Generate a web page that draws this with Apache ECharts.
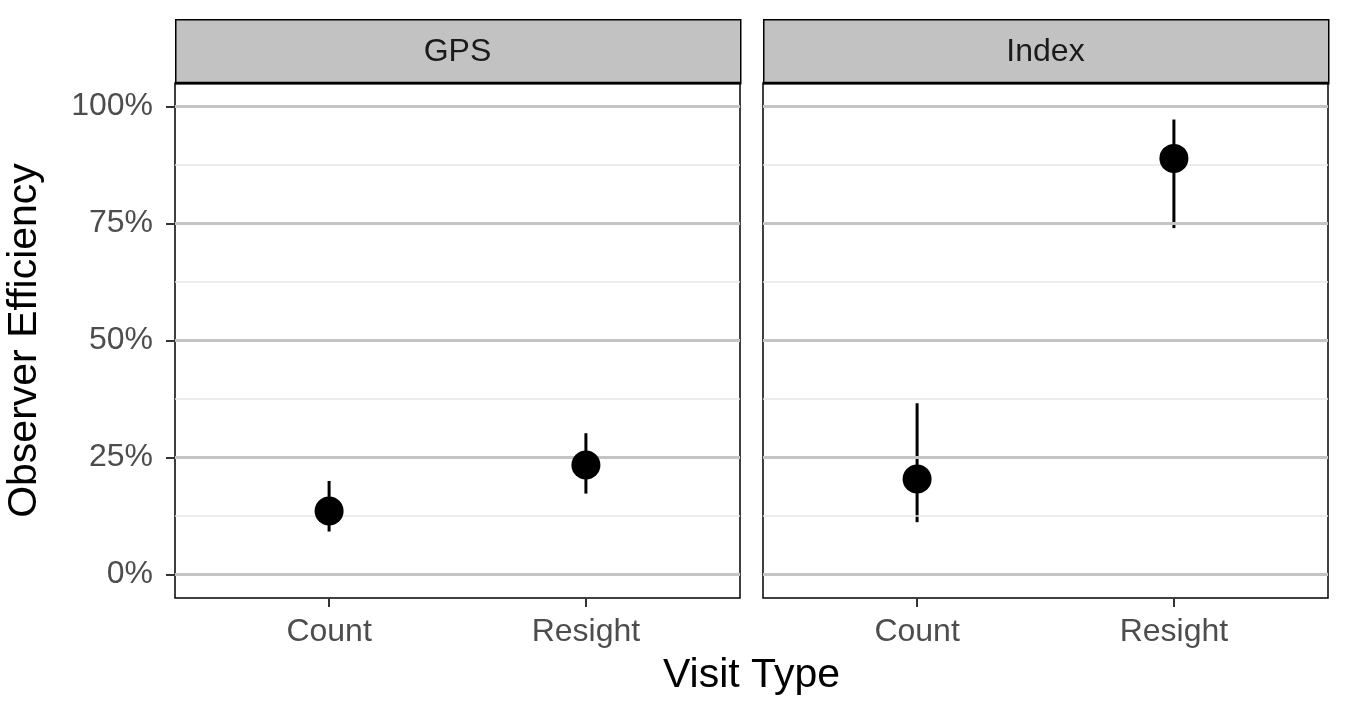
<!DOCTYPE html>
<html><head><meta charset="utf-8">
<script src="https://cdn.jsdelivr.net/npm/echarts@6/dist/echarts.min.js"></script>
<style>html,body{margin:0;padding:0;background:#fff}#c{width:1350px;height:719px}</style>
</head><body><div id="c"></div>
<script>
const panels = ['GPS', 'Index'];
const categories = ['Count', 'Resight'];
const estimate = { GPS: [13.6, 23.4], Index: [20.4, 88.9] };
const lower = { GPS: [9.2, 17.3], Index: [11.2, 74.0] };
const upper = { GPS: [20.0, 30.2], Index: [36.6, 97.2] };
const majorTicks = [0, 25, 50, 75, 100];
const minorTicks = [12.5, 37.5, 62.5, 87.5];

const FONT = 'Liberation Sans, Arial, Helvetica, sans-serif';
const L = [175, 763], W = 565, TOP = 83, H = 515;

const chart = echarts.init(document.getElementById('c'), null, { renderer: 'canvas' });

const grids = [], xAxes = [], yAxes = [], series = [], graphics = [];
panels.forEach((p, i) => {
  grids.push({ left: L[i], top: TOP, width: W, height: H, show: true, borderColor: '#000', borderWidth: 1.5, backgroundColor: 'transparent', containLabel: false });
  xAxes.push({
    type: 'value', gridIndex: i, min: 0.4, max: 2.6,
    axisLine: { show: false, onZero: false },
    splitLine: { show: false },
    axisTick: { show: true, customValues: [1, 2], length: 9, lineStyle: { color: '#333', width: 2 } },
    axisLabel: { customValues: [1, 2], formatter: v => categories[Math.round(v) - 1] || '', color: '#4d4d4d', fontSize: 32, fontFamily: FONT, margin: 18 }
  });
  yAxes.push({
    type: 'value', gridIndex: i, min: -5, max: 105,
    axisLine: { show: false, onZero: false },
    splitLine: { show: false },
    axisTick: { show: i === 0, customValues: majorTicks, length: 9, lineStyle: { color: '#333', width: 2 } },
    axisLabel: { show: i === 0, customValues: majorTicks, formatter: v => v + '%', color: '#4d4d4d', fontSize: 32, fontFamily: FONT, margin: 22 },
    name: i === 0 ? 'Observer Efficiency' : '', nameLocation: 'middle', nameRotate: 90, nameGap: 130,
    nameTextStyle: { fontSize: 41, color: '#000', fontFamily: FONT }
  });
  // grid lines
  series.push({
    type: 'line', xAxisIndex: i, yAxisIndex: i, data: [], z: 1, silent: true,
    markLine: {
      silent: true, symbol: 'none', animation: false, label: { show: false },
      data: majorTicks.map(v => ({ yAxis: v, lineStyle: { color: '#c4c4c4', width: 3, type: 'solid' } }))
        .concat(minorTicks.map(v => ({ yAxis: v, lineStyle: { color: '#e6e6e6', width: 1.5, type: 'solid' } })))
    }
  });
  // error bars
  series.push({
    type: 'custom', xAxisIndex: i, yAxisIndex: i, z: 4, silent: true, animation: false,
    data: categories.map((c, k) => [k + 1, lower[p][k], upper[p][k]]),
    renderItem: (params, api) => {
      const a = api.coord([api.value(0), api.value(1)]);
      const b = api.coord([api.value(0), api.value(2)]);
      return { type: 'line', shape: { x1: a[0], y1: a[1], x2: b[0], y2: b[1] }, style: { stroke: '#000', lineWidth: 3 } };
    }
  });
  // points
  series.push({
    type: 'scatter', xAxisIndex: i, yAxisIndex: i, z: 5, symbol: 'circle', symbolSize: 29, animation: false,
    itemStyle: { color: '#000', opacity: 1 },
    data: categories.map((c, k) => [k + 1, estimate[p][k]])
  });
  // strip
  graphics.push({
    type: 'rect', left: L[i], top: 19, z: 10,
    shape: { width: W, height: TOP - 19 },
    style: { fill: '#c2c2c2', stroke: '#000', lineWidth: 1.5 }
  });
  graphics.push({
    type: 'text', z: 11, x: L[i] + W / 2, y: 19 + (TOP - 19) / 2 + 1,
    style: { text: p, fill: '#1a1a1a', font: '32px ' + FONT, align: 'center', verticalAlign: 'middle' }
  });
  graphics.push({
    type: 'line', z: 11, shape: { x1: L[i], y1: TOP, x2: L[i] + W, y2: TOP },
    style: { stroke: '#000', lineWidth: 2.5 }
  });
});
graphics.push({
  type: 'text', z: 11, x: (L[0] + L[1] + W) / 2, y: 676,
  style: { text: 'Visit Type', fill: '#000', font: '41px ' + FONT, align: 'center', verticalAlign: 'middle' }
});

chart.setOption({
  animation: false,
  backgroundColor: '#fff',
  grid: grids, xAxis: xAxes, yAxis: yAxes, series: series, graphic: graphics
});
</script></body></html>
